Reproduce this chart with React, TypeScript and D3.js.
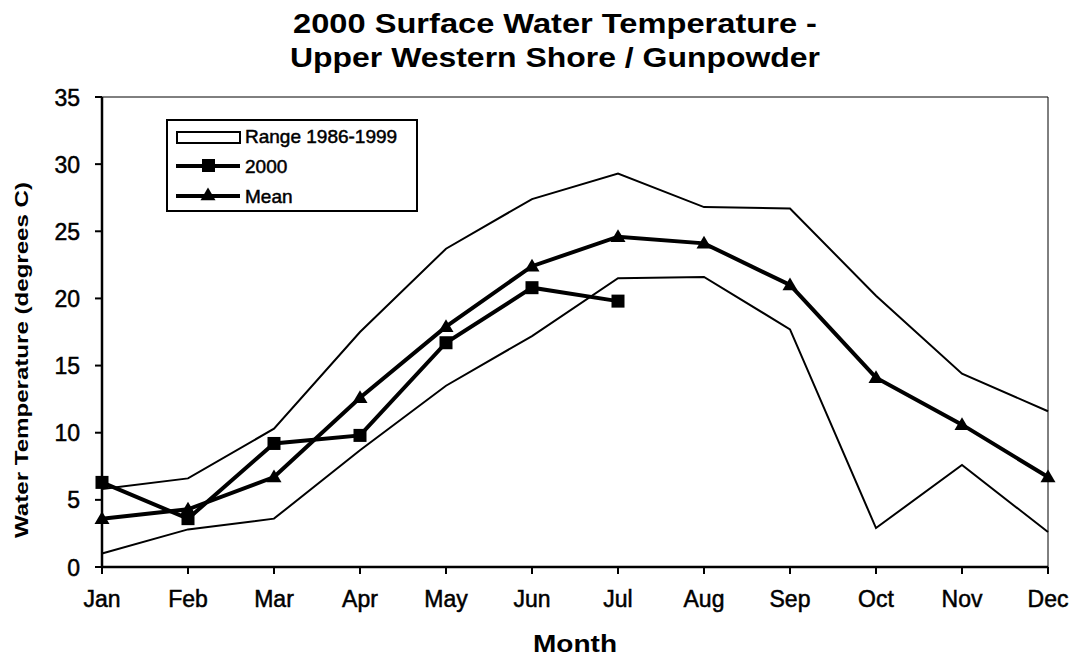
import React from "react";
import * as d3 from "d3";

const months = ["Jan", "Feb", "Mar", "Apr", "May", "Jun", "Jul", "Aug", "Sep", "Oct", "Nov", "Dec"];
const rangeHigh = [5.8, 6.6, 10.3, 17.5, 23.7, 27.4, 29.3, 26.8, 26.7, 20.2, 14.4, 11.6];
const rangeLow = [1.0, 2.8, 3.6, 8.7, 13.5, 17.2, 21.5, 21.6, 17.7, 2.9, 7.6, 2.6];
const meanVals = [3.6, 4.3, 6.7, 12.6, 17.9, 22.4, 24.6, 24.1, 21.0, 14.1, 10.6, 6.7];
const vals2000 = [6.3, 3.6, 9.2, 9.8, 16.7, 20.8, 19.8];
const yTicks = [0, 5, 10, 15, 20, 25, 30, 35];

const W = 1079, H = 657;
const left = 102, right = 1048, top = 97, bottom = 567;
const font = "'Liberation Sans', Arial, sans-serif";

export default function App() {
  const x = d3.scalePoint<string>().domain(months).range([left, right]);
  const y = d3.scaleLinear().domain([0, 35]).range([bottom, top]);
  const line = d3.line<number>().x((_, i) => x(months[i])!).y((d) => y(d));

  const tri = (cx: number, cy: number, s = 7.5) =>
    `M${cx},${cy - s} L${cx + s},${cy + s * 0.7} L${cx - s},${cy + s * 0.7} Z`;

  const heavy = { stroke: "#000", strokeWidth: 0.5 };

  return (
    <svg width={W} height={H} style={{ position: "absolute", left: 0, top: 0, background: "#fff" }} fontFamily={font}>
      <rect x={0} y={0} width={W} height={H} fill="#fff" />
      <text x={555} y={33} textAnchor="middle" fontSize={27} fontWeight="bold" textLength={524} lengthAdjust="spacingAndGlyphs">2000 Surface Water Temperature -</text>
      <text x={555} y={67} textAnchor="middle" fontSize={27} fontWeight="bold" textLength={530} lengthAdjust="spacingAndGlyphs">Upper Western Shore / Gunpowder</text>

      {/* frame */}
      <line x1={left} x2={right} y1={top} y2={top} stroke="#000" strokeWidth={1} />
      <line x1={right} x2={right} y1={top} y2={bottom} stroke="#000" strokeWidth={1} />
      <line x1={left} x2={left} y1={top} y2={bottom} stroke="#000" strokeWidth={2.5} />
      <line x1={left} x2={right} y1={bottom} y2={bottom} stroke="#000" strokeWidth={2.5} />

      {yTicks.map((t) => (
        <g key={t}>
          <line x1={left - 7} x2={left} y1={y(t)} y2={y(t)} stroke="#000" strokeWidth={2} />
          <text x={80} y={y(t) + 8.5} textAnchor="end" fontSize={23} {...heavy}>{t}</text>
        </g>
      ))}
      {months.map((m) => (
        <g key={m}>
          <line x1={x(m)} x2={x(m)} y1={bottom} y2={bottom + 7} stroke="#000" strokeWidth={2} />
          <text x={x(m)} y={607} textAnchor="middle" fontSize={23} {...heavy}>{m}</text>
        </g>
      ))}
      <text x={575} y={652} textAnchor="middle" fontSize={24} fontWeight="bold" textLength={84} lengthAdjust="spacingAndGlyphs">Month</text>
      <text transform={`translate(28,360) rotate(-90)`} textAnchor="middle" fontSize={19} fontWeight="bold" textLength={356} lengthAdjust="spacingAndGlyphs">Water Temperature (degrees C)</text>

      {/* range */}
      <path d={line(rangeHigh)!} fill="none" stroke="#000" strokeWidth={2} />
      <path d={line(rangeLow)!} fill="none" stroke="#000" strokeWidth={2} />
      {/* mean */}
      <path d={line(meanVals)!} fill="none" stroke="#000" strokeWidth={4} />
      {meanVals.map((v, i) => (
        <path key={i} d={tri(x(months[i])!, y(v))} fill="#000" />
      ))}
      {/* 2000 */}
      <path d={line(vals2000)!} fill="none" stroke="#000" strokeWidth={4} />
      {vals2000.map((v, i) => (
        <rect key={i} x={x(months[i])! - 6.5} y={y(v) - 6.5} width={13} height={13} fill="#000" />
      ))}

      {/* legend */}
      <rect x={167} y={120} width={250} height={91} fill="#fff" stroke="#000" strokeWidth={2} />
      <rect x={177} y={132} width={63} height={11} fill="#fff" stroke="#000" strokeWidth={2} />
      <text x={245} y={143} fontSize={19} {...heavy}>Range 1986-1999</text>
      <line x1={176} x2={240} y1={166} y2={166} stroke="#000" strokeWidth={4} />
      <rect x={202} y={159} width={13} height={13} fill="#000" />
      <text x={245} y={173} fontSize={19} {...heavy}>2000</text>
      <line x1={176} x2={240} y1={196} y2={196} stroke="#000" strokeWidth={4} />
      <path d={tri(208, 195)} fill="#000" />
      <text x={245} y={203} fontSize={19} {...heavy}>Mean</text>
    </svg>
  );
}
